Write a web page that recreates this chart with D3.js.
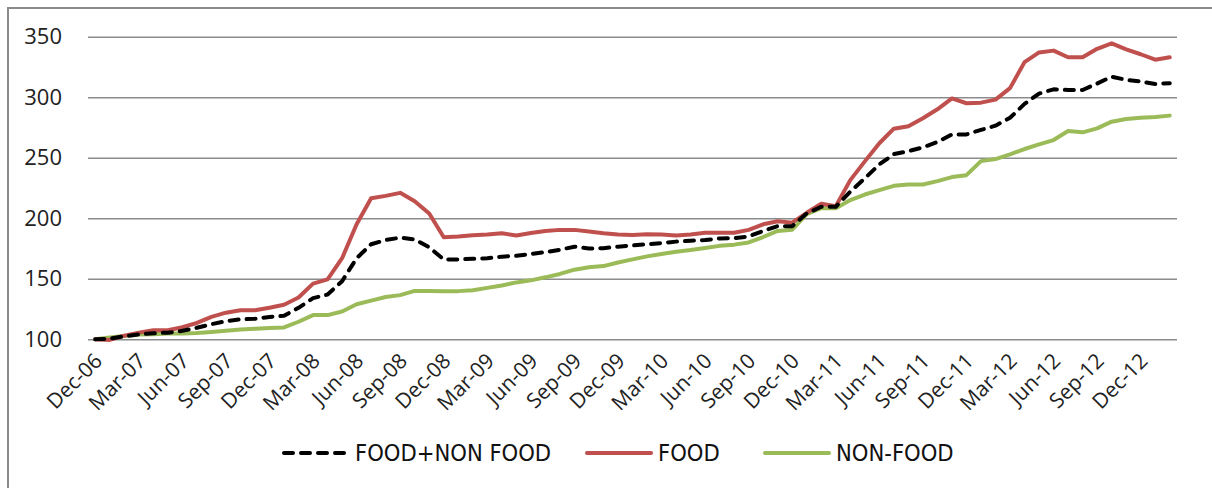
<!DOCTYPE html>
<html>
<head>
<meta charset="utf-8">
<script src="https://cdn.jsdelivr.net/npm/d3@7"></script>
<style>
  body { margin: 0; background: #fff; }
  svg { display: block; }
</style>
</head>
<body>
<div id="chart"></div>
<script>
// monthly index, Dec-06 .. Feb-13
const months = d3.timeMonths(new Date(2006, 11, 1), new Date(2013, 2, 1));
const yTicks = [100, 150, 200, 250, 300, 350];

const combined = [
  100, 100.5, 102.5, 104, 105, 105.5, 107, 109.5, 112.5, 115, 116.5, 117, 118.5, 119.5,
  126, 134, 137, 148, 167, 178.5, 182, 184, 182.5, 176, 166, 166, 166.5, 167, 168.3,
  169, 170.5, 172, 174, 176.5, 175, 175.3, 176.5, 177.6, 178.5, 179.5, 180.7, 181.5,
  182, 183.3, 183.5, 185, 189.5, 193.5, 193.5, 204, 209.5, 209.5, 222, 233, 244.5,
  253, 255.5, 258.6, 263, 269.3, 269.3, 273, 276.5, 283, 294.5, 303, 306.5, 306, 306,
  311.3, 317, 314.3, 313, 311, 311.6
];
const food = [
  100, 99.5, 103, 105.5, 107.5, 107.5, 110, 113.5, 118.5, 122, 124, 124, 126, 128.5,
  134.5, 146, 149.5, 167, 195, 216.5, 218.5, 221, 214, 204, 184.3, 185, 186, 186.5,
  187.6, 185.7, 187.8, 189.5, 190.4, 190.4, 189, 187.6, 186.5, 186.2, 186.8, 186.5,
  185.8, 186.5, 188, 188, 188, 190.4, 195, 197.5, 196.4, 204.5, 212, 210, 231.5, 247,
  262, 274, 276, 282.6, 290, 299, 295, 295.5, 298, 307.5, 329, 337, 338.5, 333, 333,
  340, 344.5, 339.5, 335.5, 331, 333
];
const nonFood = [
  100, 101.4, 102.8, 103.9, 104.1, 104.7, 104.7, 105.2, 106, 107, 108, 108.8, 109.4,
  109.8, 114.5, 120, 120, 123, 129, 132, 135, 136.5, 140, 140, 139.8, 139.8, 140.5,
  142.5, 144.5, 147, 148.7, 151.2, 154, 157.5, 159.5, 160.5, 163.5, 166, 168.5, 170.5,
  172.4, 173.8, 175.5, 177.2, 178.2, 180, 184.5, 189.5, 190.5, 203.5, 208.3, 208.3,
  215, 219.6, 223.2, 226.8, 227.9, 227.9, 230.7, 234, 235.6, 247.2, 248.9, 252.8,
  257.2, 261, 264.6, 272.1, 271, 274.3, 279.8, 282, 283.1, 283.7, 284.8
];

const seriesNames = ["FOOD+NON FOOD", "FOOD", "NON-FOOD"];
const seriesColors = ["#000000", "#C0504D", "#9BBB59"];

const width = 1212, height = 488;
const fmt = d3.timeFormat("%b-%y");

const svg = d3.select("#chart").append("svg")
  .attr("width", width)
  .attr("height", height);

svg.append("rect")
  .attr("width", width).attr("height", height)
  .attr("fill", "#fff");

// chart frame (runs off the right and bottom of the picture)
svg.append("rect")
  .attr("x", 8).attr("y", 8)
  .attr("width", 1300).attr("height", 600)
  .attr("fill", "none")
  .attr("stroke", "#8a8a8a")
  .attr("stroke-width", 2);

const x = d3.scaleBand()
  .domain(months.map(d => +d))
  .range([88, 1177]);

const y = d3.scaleLinear()
  .domain([100, 350])
  .range([339.3, 36.7]);

const cx = i => x(+months[i]) + x.bandwidth() / 2;

// gridlines + y labels
const yAxis = svg.append("g")
  .attr("transform", "translate(88,0)")
  .call(d3.axisLeft(y).tickValues(yTicks).tickSize(-(1177 - 88)).tickPadding(26));
yAxis.select(".domain").remove();
yAxis.selectAll(".tick line")
  .attr("stroke", "#8c8c8c")
  .attr("stroke-width", 1.4);
yAxis.selectAll(".tick text")
  .attr("fill", "#222")
  .style("font-family", "'Open Sans', sans-serif")
  .style("font-size", "22px");

// x labels, every third month
const xLabels = svg.append("g");
xLabels.selectAll("text")
  .data(months.filter((d, i) => i % 3 === 0))
  .join("text")
  .attr("transform", d => `translate(${x(+d) + x.bandwidth() / 2 + 3},357) rotate(-45)`)
  .attr("text-anchor", "end")
  .attr("dy", "0.35em")
  .attr("fill", "#222")
  .style("font-family", "'Open Sans', sans-serif")
  .style("font-size", "21px")
  .text(d => fmt(d));

const line = d3.line()
  .x((d, i) => cx(i))
  .y(d => y(d));

const data = [combined, food, nonFood];

// draw green first, then red, dashed black on top
[2, 1, 0].forEach(k => {
  svg.append("path")
    .datum(data[k])
    .attr("fill", "none")
    .attr("stroke", seriesColors[k])
    .attr("stroke-width", 4)
    .attr("stroke-linejoin", "round")
    .attr("stroke-linecap", "round")
    .attr("stroke-dasharray", k === 0 ? "9,8" : null)
    .attr("d", line);
});

// legend
const legendItems = [
  {name: seriesNames[0], color: seriesColors[0], x0: 282, dash: "9,8"},
  {name: seriesNames[1], color: seriesColors[1], x0: 585, dash: null},
  {name: seriesNames[2], color: seriesColors[2], x0: 763, dash: null}
];
const lg = svg.append("g").selectAll("g")
  .data(legendItems)
  .join("g")
  .attr("transform", d => `translate(${d.x0},453)`);
lg.append("line")
  .attr("x1", 2).attr("x2", 66)
  .attr("stroke", d => d.color)
  .attr("stroke-width", 4)
  .attr("stroke-linecap", "round")
  .attr("stroke-dasharray", d => d.dash);
lg.append("text")
  .attr("x", 73)
  .attr("dy", "0.35em")
  .attr("fill", "#111")
  .style("font-family", "'Liberation Sans Narrow', 'DejaVu Sans Condensed', sans-serif")
  .style("font-size", "23.5px")
  .text(d => d.name);
</script>
</body>
</html>
